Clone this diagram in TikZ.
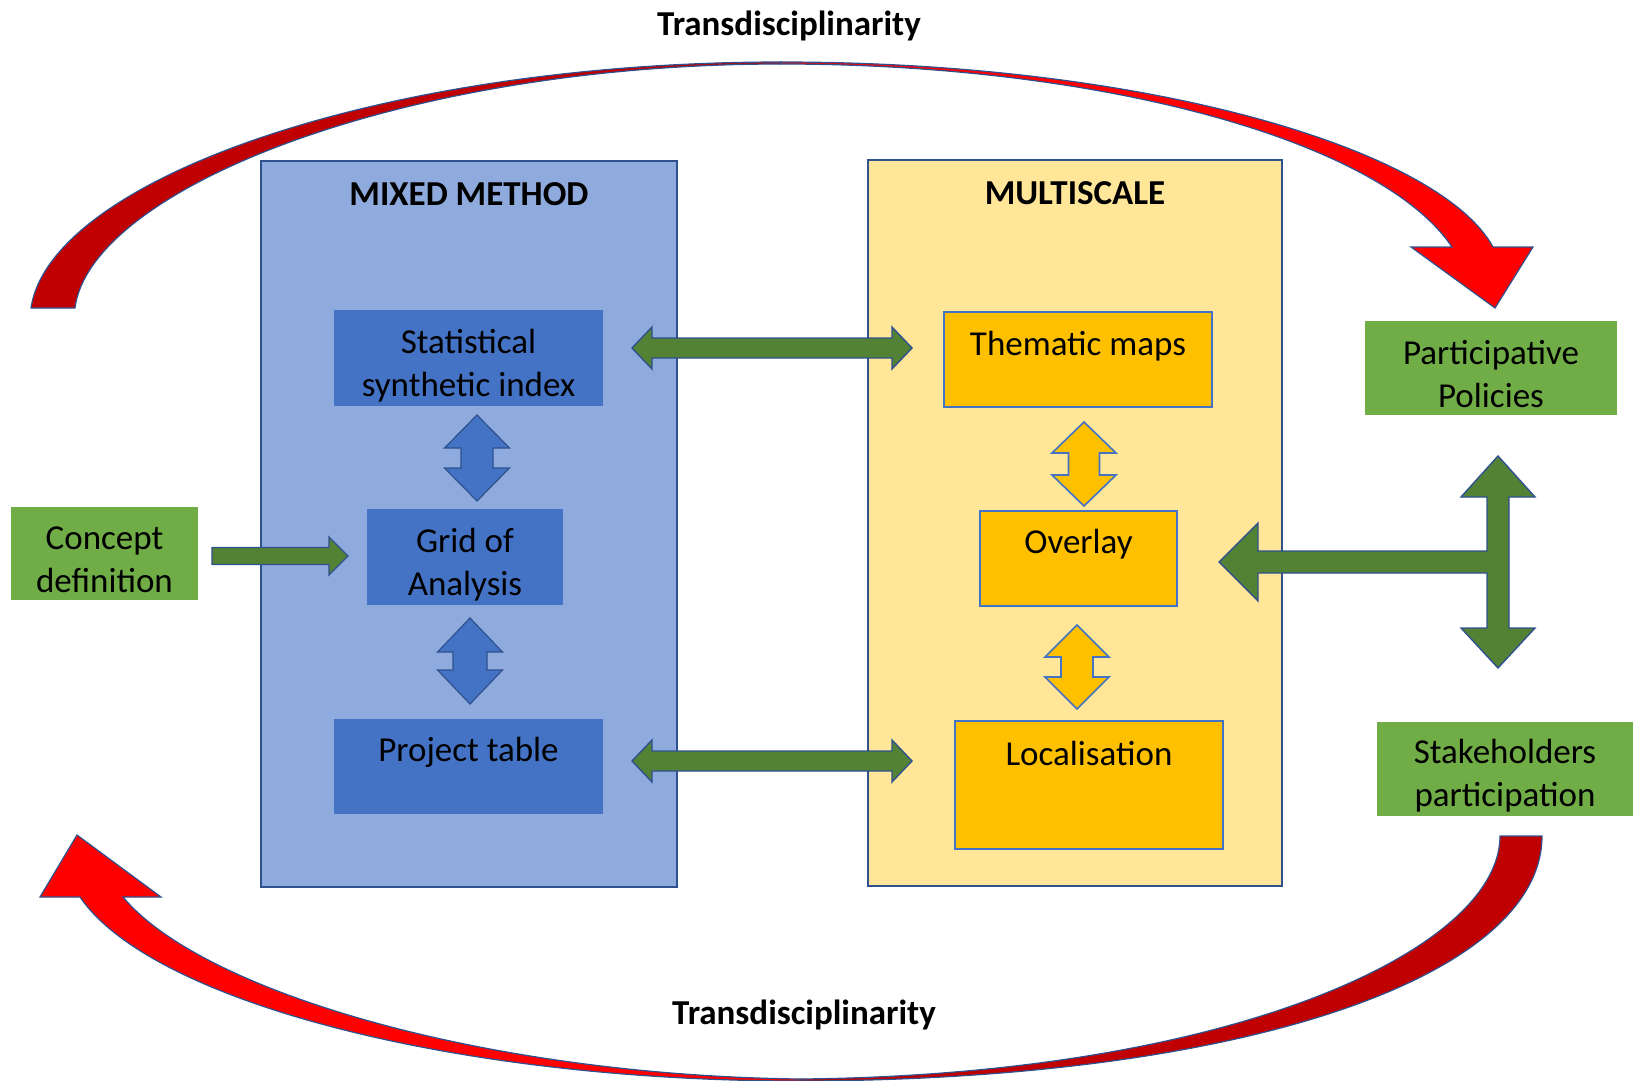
\documentclass[tikz,border=0pt]{standalone}
\usepackage{fontspec}
\setmainfont{Carlito}
\usetikzlibrary{calc}
\definecolor{olblue}{HTML}{2F528F}
\definecolor{accblue}{HTML}{4472C4}
\definecolor{lightblue}{HTML}{8FAADC}
\definecolor{lightyel}{HTML}{FFE699}
\definecolor{gold}{HTML}{FFC000}
\definecolor{boxgreen}{HTML}{70AD47}
\definecolor{arrgreen}{HTML}{548235}
\definecolor{darkred}{HTML}{C00000}
\definecolor{brightred}{HTML}{FF0000}
% vertical double block arrow: style, top tip, bottom tip, head half width, shaft half width, head length
\newcommand\vdarrow[6]{%
  \path[#1] let \p1=(#2), \p2=(#3) in
  (\x1,\y1) -- (\x1+#4,\y1-#6) -- (\x1+#5,\y1-#6) -- (\x1+#5,\y2+#6) -- (\x1+#4,\y2+#6)
  -- (\x1,\y2) -- (\x1-#4,\y2+#6) -- (\x1-#5,\y2+#6) -- (\x1-#5,\y1-#6) -- (\x1-#4,\y1-#6) -- cycle;}
% horizontal double block arrow: style, left tip, right tip, head half width, shaft half width, head length
\newcommand\hdarrow[6]{%
  \path[#1] let \p1=(#2), \p2=(#3) in
  (\x1,\y1) -- (\x1+#6,\y1+#4) -- (\x1+#6,\y1+#5) -- (\x2-#6,\y1+#5) -- (\x2-#6,\y1+#4)
  -- (\x2,\y1) -- (\x2-#6,\y1-#4) -- (\x2-#6,\y1-#5) -- (\x1+#6,\y1-#5) -- (\x1+#6,\y1-#4) -- cycle;}
% single right block arrow: style, tail, tip, head half width, shaft half width, head length
\newcommand\rblockarrow[6]{%
  \path[#1] let \p1=(#2), \p2=(#3) in
  (\x1,\y1+#5) -- (\x2-#6,\y1+#5) -- (\x2-#6,\y1+#4) -- (\x2,\y1) -- (\x2-#6,\y1-#4)
  -- (\x2-#6,\y1-#5) -- (\x1,\y1-#5) -- cycle;}
\begin{document}
\begin{tikzpicture}[x=0.5pt,y=-0.5pt,
  box/.style={rectangle,inner sep=0pt,outer sep=0pt},
  txt/.style={font=\fontsize{17.5}{21.5}\selectfont,text=black},
  lbl/.style={txt,anchor=center,align=center,inner sep=0pt},
  ttl/.style={lbl,font=\fontsize{17.5}{21.5}\selectfont\bfseries},
  outerblue/.style={box,fill=lightblue,draw=olblue,line width=1pt},
  outeryel/.style={box,fill=lightyel,draw=olblue,line width=1pt},
  bluebox/.style={box,fill=accblue},
  yelbox/.style={box,fill=gold,draw=accblue,line width=0.9pt},
  greenbox/.style={box,fill=boxgreen},
  bluearr/.style={fill=accblue,draw=olblue,line width=0.6pt,line join=miter},
  yelarr/.style={fill=gold,draw=accblue,line width=0.8pt,line join=miter},
  greenarr/.style={fill=arrgreen,draw=olblue,line width=0.7pt,line join=miter},
  redtail/.style={fill=darkred,draw=olblue,line width=0.6pt},
  redhead/.style={fill=brightred,draw=olblue,line width=0.6pt,line join=miter}]
\useasboundingbox (0,0) rectangle (1633,1081);

% ---- curved red arrows (Transdisciplinarity) ----
\path[redtail] (31,308) .. controls (50,180) and (380,62) .. (781,62)
  -- (781,64) .. controls (400,64) and (90,190) .. (75,308) -- cycle;
\path[redhead] (781,62) .. controls (1150,62) and (1440,150) .. (1493,247)
  -- (1533,247) -- (1495,308) -- (1411,247) -- (1452,247)
  .. controls (1380,140) and (1100,64) .. (781,64) -- cycle;
\path[redtail] (1542,836) .. controls (1542,975) and (1250,1080) .. (800,1081)
  -- (800,1079) .. controls (1230,1075) and (1500,950) .. (1500,836) -- cycle;
\path[redhead] (800,1081) .. controls (450,1081) and (150,1000) .. (80,897)
  -- (40,897) -- (77,835) -- (161,897) -- (123,897)
  .. controls (200,990) and (480,1075) .. (800,1079) -- cycle;

\node[ttl] (tdtop) at (789,25.5) {Transdisciplinarity};
\node[ttl] (tdbot) at (804,1015) {Transdisciplinarity};

% ---- outer panels ----
\node[outerblue,minimum width=208pt,minimum height=363pt,
  label={[ttl,yshift=-16.5pt]north:MIXED METHOD}] (mixed) at (469,524) {};
\node[outeryel,minimum width=207pt,minimum height=363pt,
  label={[ttl,yshift=-16.5pt]north:MULTISCALE}] (multi) at (1075,523) {};

% ---- inner boxes ----
\node[bluebox,minimum width=134.5pt,minimum height=48pt,
  label={[lbl,yshift=-28pt]north:{Statistical\\synthetic index}}] (ssi) at (468.5,358) {};
\node[bluebox,minimum width=98pt,minimum height=48pt,
  label={[lbl,yshift=-27.75pt]north:{Grid of\\Analysis}}] (grid) at (465,557) {};
\node[bluebox,minimum width=134.5pt,minimum height=47.5pt,
  label={[lbl,yshift=-16.75pt]north:{Project table}}] (ptab) at (468.5,766.5) {};

\node[yelbox,minimum width=134pt,minimum height=47.5pt,
  label={[lbl,yshift=-17.25pt]north:{Thematic maps}}] (them) at (1078,359.5) {};
\node[yelbox,minimum width=98.5pt,minimum height=47.5pt,
  label={[lbl,yshift=-16.75pt]north:{Overlay}}] (over) at (1078.5,558.5) {};
\node[yelbox,minimum width=134pt,minimum height=64pt,
  label={[lbl,yshift=-16pt]north:{Localisation}}] (loc) at (1089,785) {};

% ---- green boxes ----
\node[greenbox,minimum width=93.5pt,minimum height=46.5pt,
  label={[lbl,yshift=-26.5pt]north:{Concept\\definition}}] (concept) at (104.5,553.5) {};
\node[greenbox,minimum width=126pt,minimum height=47pt,
  label={[lbl,yshift=-26.5pt]north:{Participative\\Policies}}] (part) at (1491,368) {};
\node[greenbox,minimum width=128pt,minimum height=47pt,
  label={[lbl,yshift=-27pt]north:{Stakeholders\\participation}}] (stake) at (1505,768.5) {};

% ---- block arrow end points ----
\coordinate (b1t) at (477,415);  \coordinate (b1b) at (477,501);
\coordinate (b2t) at (470,618);  \coordinate (b2b) at (470,704);
\coordinate (y1t) at (1084,422); \coordinate (y1b) at (1084,506);
\coordinate (y2t) at (1077,625); \coordinate (y2b) at (1077,709);
\coordinate (g1l) at (632,348);  \coordinate (g1r) at (912,348);
\coordinate (g2l) at (632,761);  \coordinate (g2r) at (912,761);
\coordinate (ctail) at (212,556); \coordinate (ctip) at (348,556);

\vdarrow{bluearr}{b1t}{b1b}{16.25pt}{8pt}{16.5pt}
\vdarrow{bluearr}{b2t}{b2b}{16.25pt}{8.5pt}{17pt}
\vdarrow{yelarr}{y1t}{y1b}{16pt}{7.75pt}{15.5pt}
\vdarrow{yelarr}{y2t}{y2b}{16pt}{8pt}{16pt}
\hdarrow{greenarr}{g1l}{g1r}{10.5pt}{5pt}{10pt}
\hdarrow{greenarr}{g2l}{g2r}{10.5pt}{5pt}{10pt}
\rblockarrow{greenarr}{ctail}{ctip}{9.5pt}{4.25pt}{9.5pt}

% ---- T-shaped arrow (stakeholders / policies -> overlay) ----
\coordinate (tleft) at (1219,562);
\coordinate (ttop) at (1498,456);
\coordinate (tbot) at (1498,668);
\path[greenarr] (tleft) -- (1258,523) -- (1258,551) -- (1487,551) -- (1487,497) -- (1461,497)
  -- (ttop) -- (1535,497) -- (1509,497) -- (1509,628) -- (1535,628) -- (tbot)
  -- (1461,628) -- (1487,628) -- (1487,573) -- (1258,573) -- (1258,601) -- cycle;
\end{tikzpicture}
\end{document}
